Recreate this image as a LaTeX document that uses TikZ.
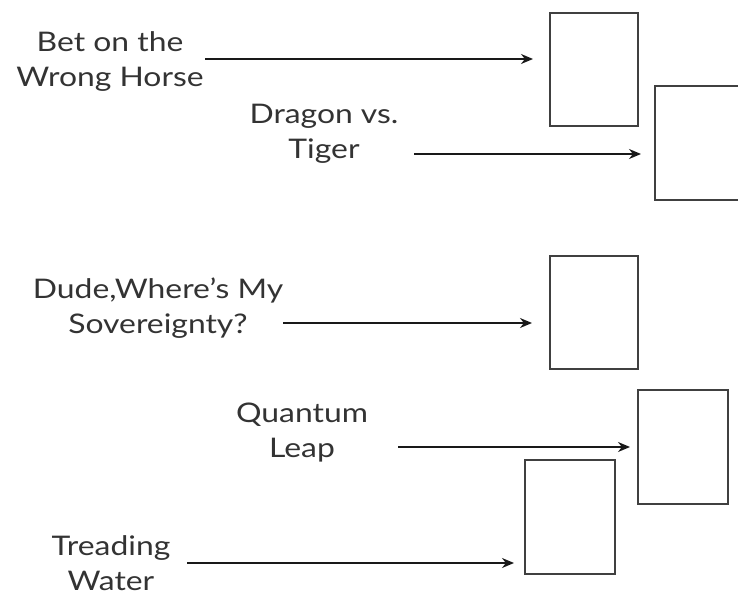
\documentclass[tikz,border=0pt]{standalone}
\usepackage{fontspec}
\setmainfont{Lato}
\usepackage{graphicx}
\usetikzlibrary{arrows.meta}
\newcommand{\lbltext}[2]{\scalebox{1.18}[1]{\begin{tabular}{@{}c@{}}#1\\#2\end{tabular}}}
\begin{document}
\begin{tikzpicture}[x=1pt,y=-1pt,
  lbl/.style={font=\fontsize{27}{35}\selectfont,text=black!80,inner sep=0pt},
  card/.style={draw=black!75,line width=1.6pt,minimum width=88pt,minimum height=113pt,inner sep=0pt,anchor=north west},
  conn/.style={draw=black!90,line width=1.4pt,-{Stealth[length=12pt,width=10pt]}}]
\useasboundingbox (0,0) rectangle (738,596);
\clip (0,0) rectangle (738,596);
% boxes
\node[card] (b1) at (549,12) {};
\node[card,minimum width=100pt,minimum height=114pt] (b2) at (654,85) {};
\node[card] (b3) at (549,255) {};
\node[card,minimum width=90pt,minimum height=114pt] (b4) at (637,389) {};
\node[card,minimum width=90pt,minimum height=114pt] (b5) at (524,459) {};
% labels
\node[lbl] (t1) at (110,62) {\lbltext{Bet on the}{Wrong Horse}};
\node[lbl] (t2) at (324,134) {\lbltext{Dragon vs.}{Tiger}};
\node[lbl] (t3) at (158,309) {\lbltext{Dude,Where’s My}{Sovereignty?}};
\node[lbl] (t4) at (302,433) {\lbltext{Quantum}{Leap}};
\node[lbl] (t5) at (111,566) {\lbltext{Treading}{Water}};
% connector end points
\coordinate (s1) at (205,59);   \coordinate (e1) at (533,59);
\coordinate (s2) at (414,154);  \coordinate (e2) at (641,154);
\coordinate (s3) at (283,323);  \coordinate (e3) at (532,323);
\coordinate (s4) at (398,447);  \coordinate (e4) at (630,447);
\coordinate (s5) at (187,563);  \coordinate (e5) at (514,563);
\draw[conn] (s1) -- (e1);
\draw[conn] (s2) -- (e2);
\draw[conn] (s3) -- (e3);
\draw[conn] (s4) -- (e4);
\draw[conn] (s5) -- (e5);
\end{tikzpicture}
\end{document}
